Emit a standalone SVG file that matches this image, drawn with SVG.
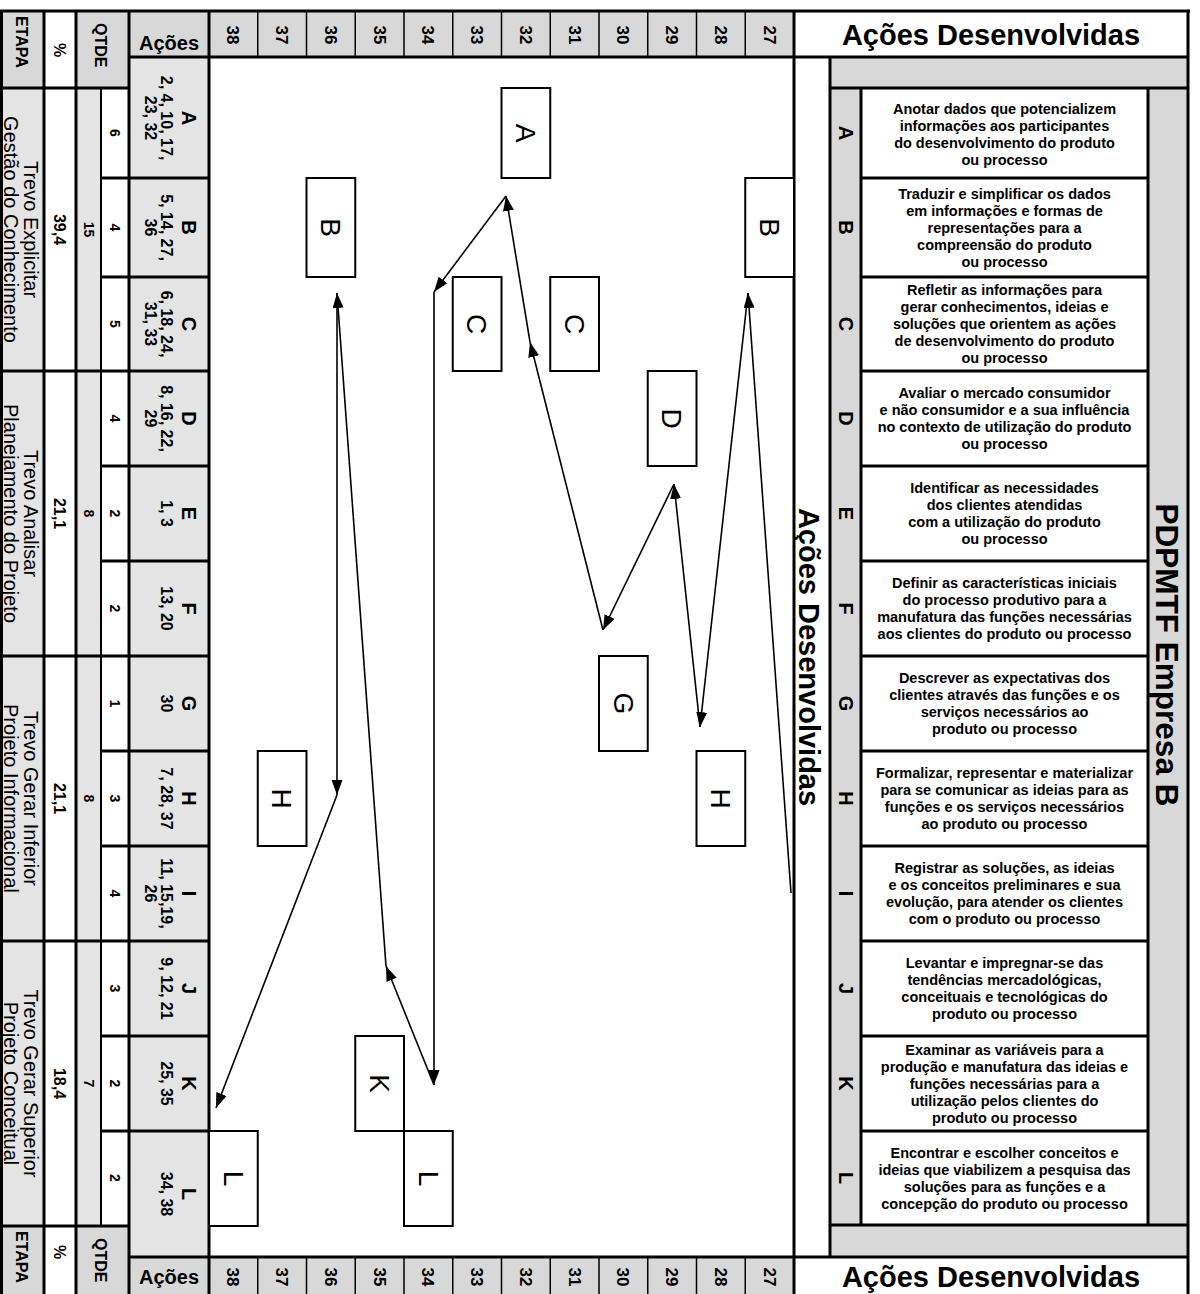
<svg xmlns="http://www.w3.org/2000/svg" width="1200" height="1294" viewBox="0 0 1200 1294">
<style>
  text { font-family: "Liberation Sans", Arial, sans-serif; fill: #000; }
  .b { font-weight: bold; }
  .mid { text-anchor: middle; }
  .hdr { fill: #d8d8d8; }
  .cell { fill: #e4e4e4; }
  .thick { stroke: #000; stroke-width: 3; fill: none; }
  .thin { stroke: #000; stroke-width: 2; fill: none; }
  .sep { stroke: #000; stroke-width: 1.5; fill: none; }
  .box rect { fill: #fff; stroke: #000; stroke-width: 2; }
  .box text { font-size: 28px; text-anchor: middle; }
  .desc { font-size: 14.5px; font-weight: bold; text-anchor: middle; }
  .etapa { font-size: 20px; text-anchor: middle; }
  .acao-l { font-size: 20px; font-weight: bold; text-anchor: middle; }
  .acao-n { font-size: 16px; font-weight: bold; text-anchor: middle; }
  .num { font-size: 17px; font-weight: bold; text-anchor: middle; }
  .q { font-size: 14px; font-weight: bold; text-anchor: middle; }
  .conn line { stroke: #000; stroke-width: 1.6; marker-end: url(#arrow); }
</style>
<defs>
  <marker id="arrow" markerUnits="userSpaceOnUse" markerWidth="15" markerHeight="11" refX="15" refY="5.5" orient="auto">
    <path d="M0,0 L15,5.5 L0,11 z" fill="#000"/>
  </marker>
</defs>

<rect x="0" y="0" width="1200" height="1294" fill="#fff"/>

<!-- left summary table -->
<g id="left-table">
  <rect class="hdr" x="1" y="11" width="43" height="77"/>
  <rect class="hdr" x="76" y="11" width="53" height="77"/>
  <rect class="hdr" x="129" y="11" width="80" height="46"/>
  <rect class="cell" x="1" y="88" width="43" height="1138"/>
  <rect class="cell" x="76" y="88" width="25" height="1138"/>
  <rect class="cell" x="129" y="57" width="80" height="1200"/>
  <rect class="hdr" x="1" y="1226" width="43" height="68"/>
  <rect class="hdr" x="76" y="1226" width="53" height="68"/>
  <rect class="hdr" x="129" y="1257" width="80" height="37"/>

  <text class="b" font-size="16" transform="translate(22,16) rotate(90)" dy="0.35em">ETAPA</text>
  <text class="b mid" font-size="16" transform="translate(60,50) rotate(90)" dy="0.35em">%</text>
  <text class="b" font-size="16" transform="translate(101,23) rotate(90)" dy="0.35em">QTDE</text>
  <text class="b mid" font-size="20" x="169" y="50">Ações</text>

  <text class="b" font-size="16" transform="translate(22,1231) rotate(90)" dy="0.35em">ETAPA</text>
  <text class="b mid" font-size="16" transform="translate(60,1252) rotate(90)" dy="0.35em">%</text>
  <text class="b" font-size="16" transform="translate(101,1238) rotate(90)" dy="0.35em">QTDE</text>
  <text class="b mid" font-size="20" x="169" y="1284">Ações</text>

  <!-- stage names -->
  <text class="etapa" transform="translate(31,229.5) rotate(90)" dy="0.35em">Trevo Explicitar</text>
  <text class="etapa" transform="translate(10.5,229.5) rotate(90)" dy="0.35em">Gestão do Conhecimento</text>
  <text class="etapa" transform="translate(31,513.5) rotate(90)" dy="0.35em">Trevo Analisar</text>
  <text class="etapa" transform="translate(10.5,513.5) rotate(90)" dy="0.35em">Planejamento do Projeto</text>
  <text class="etapa" transform="translate(31,798.5) rotate(90)" dy="0.35em">Trevo Gerar Inferior</text>
  <text class="etapa" transform="translate(10.5,798.5) rotate(90)" dy="0.35em">Projeto Informacional</text>
  <text class="etapa" transform="translate(31,1083.5) rotate(90)" dy="0.35em">Trevo Gerar Superior</text>
  <text class="etapa" transform="translate(10.5,1083.5) rotate(90)" dy="0.35em">Projeto Conceitual</text>

  <!-- percentages -->
  <text class="b mid" font-size="16" transform="translate(60,229.5) rotate(90)" dy="0.35em">39,4</text>
  <text class="b mid" font-size="16" transform="translate(60,513.5) rotate(90)" dy="0.35em">21,1</text>
  <text class="b mid" font-size="16" transform="translate(60,798.5) rotate(90)" dy="0.35em">21,1</text>
  <text class="b mid" font-size="16" transform="translate(60,1083.5) rotate(90)" dy="0.35em">18,4</text>

  <!-- quantity per stage -->
  <text class="q" transform="translate(88.5,229.5) rotate(90)" dy="0.35em">15</text>
  <text class="q" transform="translate(88.5,513.5) rotate(90)" dy="0.35em">8</text>
  <text class="q" transform="translate(88.5,798.5) rotate(90)" dy="0.35em">8</text>
  <text class="q" transform="translate(88.5,1083.5) rotate(90)" dy="0.35em">7</text>

  <!-- quantity per action -->
  <text class="q" transform="translate(114.5,133) rotate(90)" dy="0.35em">6</text>
  <text class="q" transform="translate(114.5,227.5) rotate(90)" dy="0.35em">4</text>
  <text class="q" transform="translate(114.5,324) rotate(90)" dy="0.35em">5</text>
  <text class="q" transform="translate(114.5,418.5) rotate(90)" dy="0.35em">4</text>
  <text class="q" transform="translate(114.5,513.5) rotate(90)" dy="0.35em">2</text>
  <text class="q" transform="translate(114.5,608.5) rotate(90)" dy="0.35em">2</text>
  <text class="q" transform="translate(114.5,703.5) rotate(90)" dy="0.35em">1</text>
  <text class="q" transform="translate(114.5,798.5) rotate(90)" dy="0.35em">3</text>
  <text class="q" transform="translate(114.5,893.5) rotate(90)" dy="0.35em">4</text>
  <text class="q" transform="translate(114.5,988.5) rotate(90)" dy="0.35em">3</text>
  <text class="q" transform="translate(114.5,1083.5) rotate(90)" dy="0.35em">2</text>
  <text class="q" transform="translate(114.5,1178) rotate(90)" dy="0.35em">2</text>

  <!-- action letters and numbers -->
  <text class="acao-l" transform="translate(189,118) rotate(90)" dy="0.35em">A</text>
  <text class="acao-n" transform="translate(167,118) rotate(90)" dy="0.35em">2, 4, 10, 17,</text>
  <text class="acao-n" transform="translate(151,118) rotate(90)" dy="0.35em">23, 32</text>
  <text class="acao-l" transform="translate(189,227.5) rotate(90)" dy="0.35em">B</text>
  <text class="acao-n" transform="translate(167,227.5) rotate(90)" dy="0.35em">5, 14, 27,</text>
  <text class="acao-n" transform="translate(151,227.5) rotate(90)" dy="0.35em">36</text>
  <text class="acao-l" transform="translate(189,324) rotate(90)" dy="0.35em">C</text>
  <text class="acao-n" transform="translate(167,324) rotate(90)" dy="0.35em">6, 18, 24,</text>
  <text class="acao-n" transform="translate(151,324) rotate(90)" dy="0.35em">31, 33</text>
  <text class="acao-l" transform="translate(189,418.5) rotate(90)" dy="0.35em">D</text>
  <text class="acao-n" transform="translate(167,418.5) rotate(90)" dy="0.35em">8, 16, 22,</text>
  <text class="acao-n" transform="translate(151,418.5) rotate(90)" dy="0.35em">29</text>
  <text class="acao-l" transform="translate(189,513.5) rotate(90)" dy="0.35em">E</text>
  <text class="acao-n" transform="translate(167,513.5) rotate(90)" dy="0.35em">1, 3</text>
  <text class="acao-l" transform="translate(189,608.5) rotate(90)" dy="0.35em">F</text>
  <text class="acao-n" transform="translate(167,608.5) rotate(90)" dy="0.35em">13, 20</text>
  <text class="acao-l" transform="translate(189,703.5) rotate(90)" dy="0.35em">G</text>
  <text class="acao-n" transform="translate(167,703.5) rotate(90)" dy="0.35em">30</text>
  <text class="acao-l" transform="translate(189,798.5) rotate(90)" dy="0.35em">H</text>
  <text class="acao-n" transform="translate(167,798.5) rotate(90)" dy="0.35em">7, 28, 37</text>
  <text class="acao-l" transform="translate(189,893.5) rotate(90)" dy="0.35em">I</text>
  <text class="acao-n" transform="translate(167,893.5) rotate(90)" dy="0.35em">11, 15,19,</text>
  <text class="acao-n" transform="translate(151,893.5) rotate(90)" dy="0.35em">26</text>
  <text class="acao-l" transform="translate(189,988.5) rotate(90)" dy="0.35em">J</text>
  <text class="acao-n" transform="translate(167,988.5) rotate(90)" dy="0.35em">9, 12, 21</text>
  <text class="acao-l" transform="translate(189,1083.5) rotate(90)" dy="0.35em">K</text>
  <text class="acao-n" transform="translate(167,1083.5) rotate(90)" dy="0.35em">25, 35</text>
  <text class="acao-l" transform="translate(189,1194) rotate(90)" dy="0.35em">L</text>
  <text class="acao-n" transform="translate(167,1194) rotate(90)" dy="0.35em">34, 38</text>
</g>

<!-- action number scale, top and bottom -->
<g id="scale">
  <rect class="hdr" x="209" y="11" width="585" height="46"/>
  <rect class="hdr" x="209" y="1257" width="585" height="37"/>
  <path class="sep" d="M257.75,11V57M306.5,11V57M355.25,11V57M404,11V57M452.75,11V57M501.5,11V57M550.25,11V57M599,11V57M647.75,11V57M696.5,11V57M745.25,11V57"/>
  <path class="sep" d="M257.75,1257V1294M306.5,1257V1294M355.25,1257V1294M404,1257V1294M452.75,1257V1294M501.5,1257V1294M550.25,1257V1294M599,1257V1294M647.75,1257V1294M696.5,1257V1294M745.25,1257V1294"/>
  <text class="num" transform="translate(233.4,35) rotate(90)" dy="0.35em">38</text>
  <text class="num" transform="translate(282.1,35) rotate(90)" dy="0.35em">37</text>
  <text class="num" transform="translate(330.9,35) rotate(90)" dy="0.35em">36</text>
  <text class="num" transform="translate(379.6,35) rotate(90)" dy="0.35em">35</text>
  <text class="num" transform="translate(428.4,35) rotate(90)" dy="0.35em">34</text>
  <text class="num" transform="translate(477.1,35) rotate(90)" dy="0.35em">33</text>
  <text class="num" transform="translate(525.9,35) rotate(90)" dy="0.35em">32</text>
  <text class="num" transform="translate(574.6,35) rotate(90)" dy="0.35em">31</text>
  <text class="num" transform="translate(623.4,35) rotate(90)" dy="0.35em">30</text>
  <text class="num" transform="translate(672.1,35) rotate(90)" dy="0.35em">29</text>
  <text class="num" transform="translate(720.9,35) rotate(90)" dy="0.35em">28</text>
  <text class="num" transform="translate(769.6,35) rotate(90)" dy="0.35em">27</text>
  <text class="num" transform="translate(233.4,1277) rotate(90)" dy="0.35em">38</text>
  <text class="num" transform="translate(282.1,1277) rotate(90)" dy="0.35em">37</text>
  <text class="num" transform="translate(330.9,1277) rotate(90)" dy="0.35em">36</text>
  <text class="num" transform="translate(379.6,1277) rotate(90)" dy="0.35em">35</text>
  <text class="num" transform="translate(428.4,1277) rotate(90)" dy="0.35em">34</text>
  <text class="num" transform="translate(477.1,1277) rotate(90)" dy="0.35em">33</text>
  <text class="num" transform="translate(525.9,1277) rotate(90)" dy="0.35em">32</text>
  <text class="num" transform="translate(574.6,1277) rotate(90)" dy="0.35em">31</text>
  <text class="num" transform="translate(623.4,1277) rotate(90)" dy="0.35em">30</text>
  <text class="num" transform="translate(672.1,1277) rotate(90)" dy="0.35em">29</text>
  <text class="num" transform="translate(720.9,1277) rotate(90)" dy="0.35em">28</text>
  <text class="num" transform="translate(769.6,1277) rotate(90)" dy="0.35em">27</text>
</g>

<!-- right description table -->
<g id="right-table">
  <rect class="hdr" x="830" y="57" width="358" height="31"/>
  <rect class="hdr" x="830" y="88" width="31" height="1137"/>
  <rect class="hdr" x="1148" y="88" width="40" height="1137"/>
  <rect class="hdr" x="830" y="1225" width="358" height="32"/>

  <text class="b mid" font-size="29" x="991" y="45">Ações Desenvolvidas</text>
  <text class="b mid" font-size="29" x="991" y="1287">Ações Desenvolvidas</text>
  <text class="b mid" font-size="29" transform="translate(809,657) rotate(90)" dy="0.35em">Ações Desenvolvidas</text>
  <text class="b mid" font-size="31.5" transform="translate(1167,655) rotate(90)" dy="0.35em">PDPMTF Empresa B</text>

  <g class="b mid" font-size="20">
    <text transform="translate(845.5,133) rotate(90)" dy="0.35em">A</text>
    <text transform="translate(845.5,227.5) rotate(90)" dy="0.35em">B</text>
    <text transform="translate(845.5,324) rotate(90)" dy="0.35em">C</text>
    <text transform="translate(845.5,418.5) rotate(90)" dy="0.35em">D</text>
    <text transform="translate(845.5,513.5) rotate(90)" dy="0.35em">E</text>
    <text transform="translate(845.5,608.5) rotate(90)" dy="0.35em">F</text>
    <text transform="translate(845.5,703.5) rotate(90)" dy="0.35em">G</text>
    <text transform="translate(845.5,798.5) rotate(90)" dy="0.35em">H</text>
    <text transform="translate(845.5,893.5) rotate(90)" dy="0.35em">I</text>
    <text transform="translate(845.5,988.5) rotate(90)" dy="0.35em">J</text>
    <text transform="translate(845.5,1083.5) rotate(90)" dy="0.35em">K</text>
    <text transform="translate(845.5,1178) rotate(90)" dy="0.35em">L</text>
  </g>

  <g class="desc" xml:space="preserve">
    <text x="1004.5" y="113.5">Anotar dados que potencializem</text>
    <text x="1004.5" y="130.5">informações aos participantes</text>
    <text x="1004.5" y="147.5">do desenvolvimento do produto</text>
    <text x="1004.5" y="164.5">ou processo</text>

    <text x="1004.5" y="198.5">Traduzir e simplificar os dados</text>
    <text x="1004.5" y="215.5">em informações e formas de</text>
    <text x="1004.5" y="232.5">representações para a</text>
    <text x="1004.5" y="249.5">compreensão do produto</text>
    <text x="1004.5" y="266.5">ou processo</text>

    <text x="1004.5" y="295">Refletir as informações para</text>
    <text x="1004.5" y="312">gerar conhecimentos, ideias e</text>
    <text x="1004.5" y="329">soluções que orientem as ações</text>
    <text x="1004.5" y="346">de desenvolvimento do produto</text>
    <text x="1004.5" y="363">ou processo</text>

    <text x="1004.5" y="398">Avaliar o mercado consumidor</text>
    <text x="1004.5" y="415">e não consumidor e a sua  influência</text>
    <text x="1004.5" y="432">no contexto de utilização do  produto</text>
    <text x="1004.5" y="449">ou processo</text>

    <text x="1004.5" y="493">Identificar as necessidades</text>
    <text x="1004.5" y="510">dos clientes atendidas</text>
    <text x="1004.5" y="527">com a utilização do produto</text>
    <text x="1004.5" y="544">ou processo</text>

    <text x="1004.5" y="588">Definir as características iniciais</text>
    <text x="1004.5" y="605">do processo produtivo para a</text>
    <text x="1004.5" y="622">manufatura das funções necessárias</text>
    <text x="1004.5" y="639">aos clientes do produto ou processo</text>

    <text x="1004.5" y="683">Descrever as expectativas dos</text>
    <text x="1004.5" y="700">clientes através das funções e os</text>
    <text x="1004.5" y="717">serviços necessários ao</text>
    <text x="1004.5" y="734">produto ou processo</text>

    <text x="1004.5" y="778">Formalizar, representar e materializar</text>
    <text x="1004.5" y="795">para se comunicar as ideias para as</text>
    <text x="1004.5" y="812">funções e os serviços necessários</text>
    <text x="1004.5" y="829">ao produto ou processo</text>

    <text x="1004.5" y="873">Registrar as soluções, as ideias</text>
    <text x="1004.5" y="890">e os conceitos preliminares e sua</text>
    <text x="1004.5" y="907">evolução, para atender os clientes</text>
    <text x="1004.5" y="924">com o produto ou  processo</text>

    <text x="1004.5" y="968">Levantar e impregnar-se das</text>
    <text x="1004.5" y="985">tendências mercadológicas,</text>
    <text x="1004.5" y="1002">conceituais e tecnológicas do</text>
    <text x="1004.5" y="1019">produto ou processo</text>

    <text x="1004.5" y="1054.5">Examinar as variáveis para a</text>
    <text x="1004.5" y="1071.5">produção e manufatura das ideias e</text>
    <text x="1004.5" y="1088.5">funções necessárias para a</text>
    <text x="1004.5" y="1105.5">utilização pelos clientes do</text>
    <text x="1004.5" y="1122.5">produto ou processo</text>

    <text x="1004.5" y="1157.5">Encontrar e escolher conceitos e</text>
    <text x="1004.5" y="1174.5">ideias que viabilizem a pesquisa das</text>
    <text x="1004.5" y="1191.5">soluções para as funções e a</text>
    <text x="1004.5" y="1208.5">concepção do produto ou processo</text>
  </g>
</g>

<!-- grid rules -->
<g id="grid">
  <path class="thin" d="M101,88V1226"/>
  <path class="thick" d="M0,11H1190M1.5,11V1294M44,11V1294M76,11V1294M129,11V1294M209,11V1294M794,11V1294M1188,11V1294"/>
  <path class="thick" d="M830,57V1257M861,88V1225M1148,88V1225"/>
  <path class="thick" d="M129,57H1188M1,88H129M830,88H1188M1,1226H129M129,1257H1188M830,1225H1188"/>
  <path class="thick" d="M1,371H209M1,656H209M1,941H209"/>
  <path class="thick" d="M101,178H209M101,277H209M101,466H209M101,561H209M101,751H209M101,846H209M101,1036H209M101,1131H209"/>
  <path class="thick" d="M861,178H1148M861,277H1148M861,371H1148M861,466H1148M861,561H1148M861,656H1148M861,751H1148M861,846H1148M861,941H1148M861,1036H1148M861,1131H1148"/>
</g>

<!-- action nodes placed on the scale -->
<g id="node-A32" class="box"><rect x="501.5" y="88" width="48.75" height="90"/><text transform="translate(525.9,133) rotate(90)" dy="0.35em">A</text></g>
<g id="node-B36" class="box"><rect x="306.5" y="178" width="48.75" height="99"/><text transform="translate(330.9,227.5) rotate(90)" dy="0.35em">B</text></g>
<g id="node-B27" class="box"><rect x="745.25" y="178" width="48.75" height="99"/><text transform="translate(769.6,227.5) rotate(90)" dy="0.35em">B</text></g>
<g id="node-C33" class="box"><rect x="452.75" y="277" width="48.75" height="94"/><text transform="translate(477.1,324) rotate(90)" dy="0.35em">C</text></g>
<g id="node-C31" class="box"><rect x="550.25" y="277" width="48.75" height="94"/><text transform="translate(574.6,324) rotate(90)" dy="0.35em">C</text></g>
<g id="node-D29" class="box"><rect x="647.75" y="371" width="48.75" height="95"/><text transform="translate(672.1,418.5) rotate(90)" dy="0.35em">D</text></g>
<g id="node-G30" class="box"><rect x="599" y="656" width="48.75" height="95"/><text transform="translate(623.4,703.5) rotate(90)" dy="0.35em">G</text></g>
<g id="node-H37" class="box"><rect x="257.75" y="751" width="48.75" height="95"/><text transform="translate(282.1,798.5) rotate(90)" dy="0.35em">H</text></g>
<g id="node-H28" class="box"><rect x="696.5" y="751" width="48.75" height="95"/><text transform="translate(720.9,798.5) rotate(90)" dy="0.35em">H</text></g>
<g id="node-K35" class="box"><rect x="355.25" y="1036" width="48.75" height="95"/><text transform="translate(379.6,1083.5) rotate(90)" dy="0.35em">K</text></g>
<g id="node-L38" class="box"><rect x="209" y="1131" width="48.75" height="95"/><text transform="translate(233.4,1178.5) rotate(90)" dy="0.35em">L</text></g>
<g id="node-L34" class="box"><rect x="404" y="1131" width="48.75" height="95"/><text transform="translate(428.4,1178.5) rotate(90)" dy="0.35em">L</text></g>

<!-- sequence of actions 27 to 38 -->
<g id="connectors" class="conn">
  <line x1="791" y1="893" x2="748" y2="293"/>
  <line x1="748" y1="293" x2="700" y2="727"/>
  <line x1="700" y1="727" x2="674" y2="484"/>
  <line x1="674" y1="484" x2="603" y2="630"/>
  <line x1="603" y1="630" x2="530" y2="342"/>
  <line x1="530" y1="342" x2="506" y2="196"/>
  <line x1="506" y1="196" x2="434" y2="292"/>
  <line x1="434" y1="292" x2="434" y2="1085"/>
  <line x1="434" y1="1085" x2="386" y2="966"/>
  <line x1="386" y1="966" x2="337" y2="293"/>
  <line x1="337" y1="293" x2="337" y2="795"/>
  <line x1="337" y1="795" x2="216" y2="1108"/>
</g>
</svg>
